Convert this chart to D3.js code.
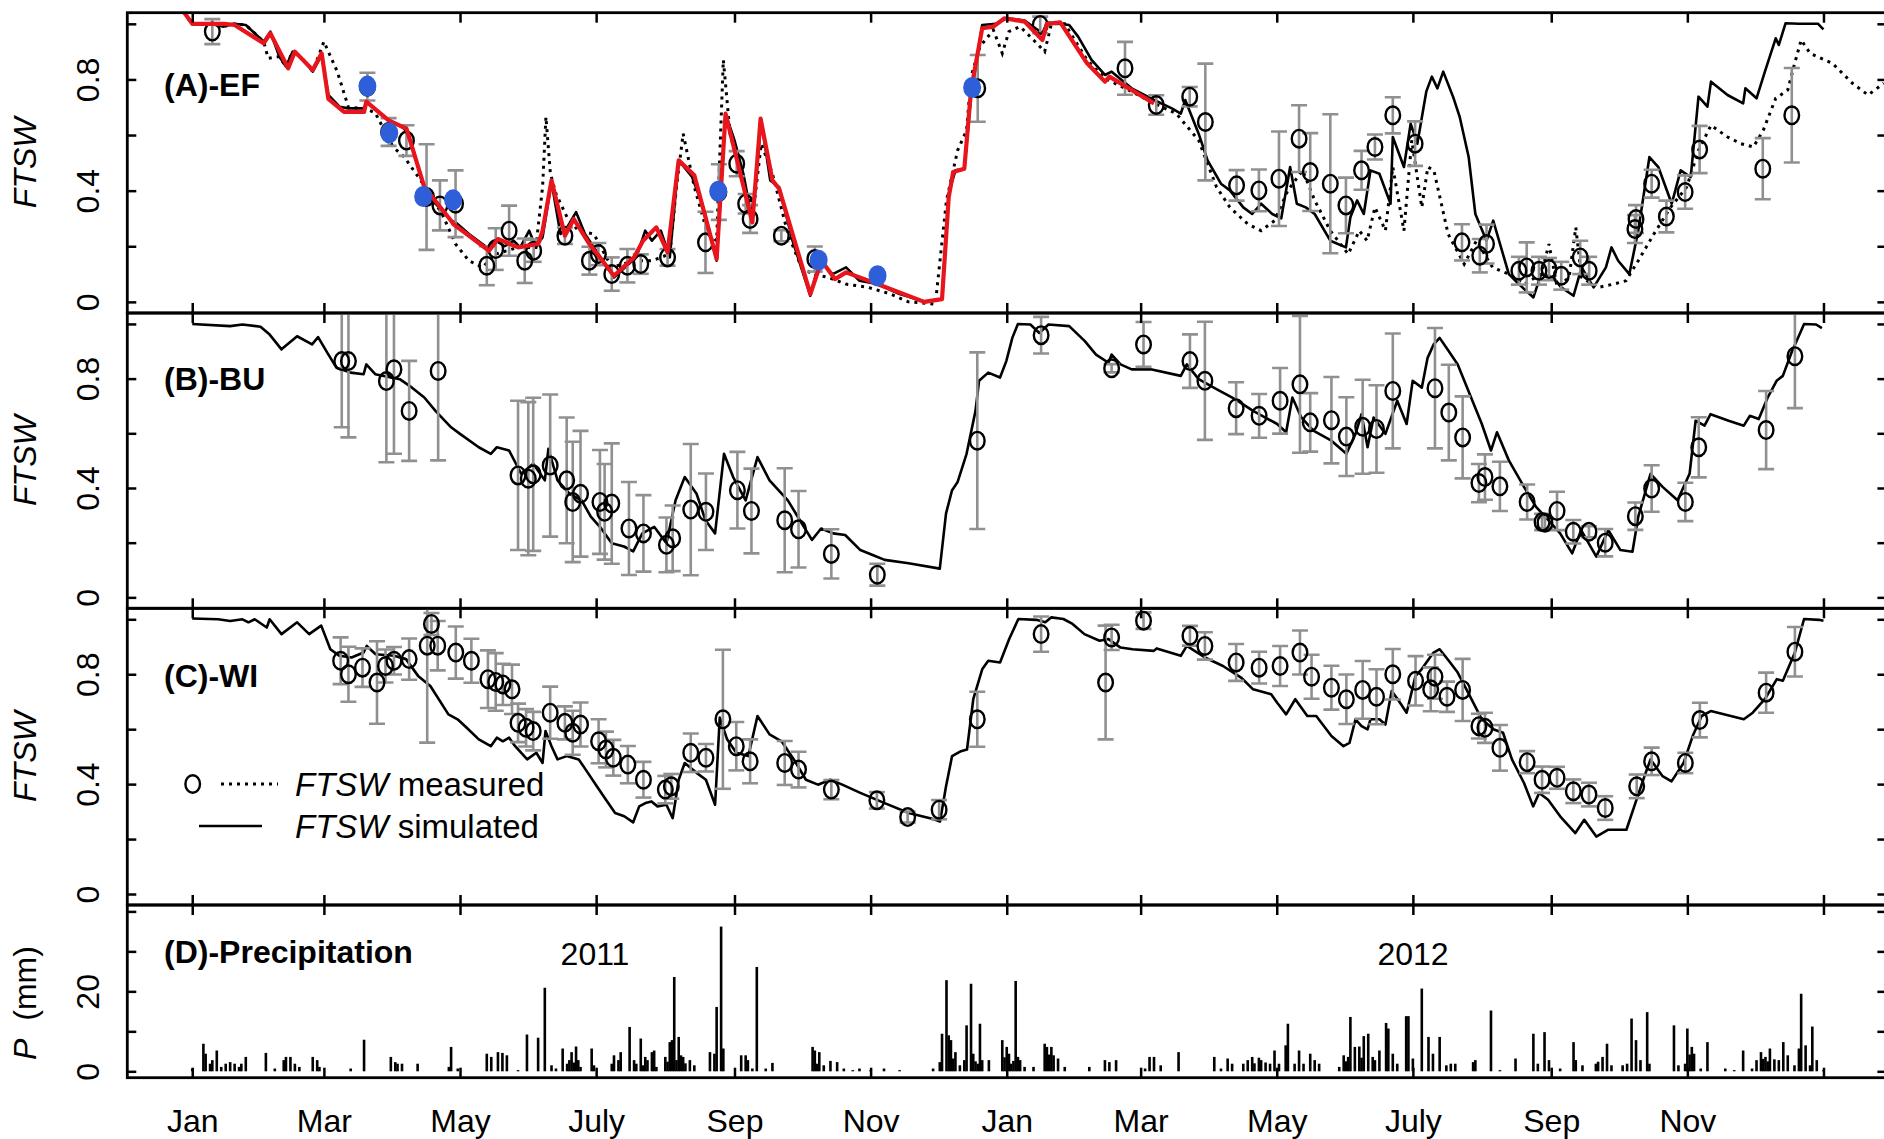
<!DOCTYPE html>
<html><head><meta charset="utf-8">
<script src="https://cdn.jsdelivr.net/npm/d3@7"></script>
<style>
body{margin:0;background:#fff}
svg{display:block}
text{font-family:"Liberation Sans",Arial,Helvetica,sans-serif;fill:#000}
</style>
</head><body><svg id="c" width="1884" height="1139"></svg>
<script>
// ---------------- DATA ----------------
// x values are days since 2011-01-01
const monthTickDates = ["2011-01-01","2011-03-01","2011-05-01","2011-07-01","2011-09-01","2011-11-01",
  "2012-01-01","2012-03-01","2012-05-01","2012-07-01","2012-09-01","2012-11-01","2013-01-01"];
const monthTickLabels = ["Jan","Mar","May","July","Sep","Nov","Jan","Mar","May","July","Sep","Nov",""];
const yearLabels = [["2011", 595], ["2012", 1413]];

// Panel A (EF) simulated FTSW (solid)
const simA = [[-4,1.045],[0,1.0],[8,1.0],[14,0.99],[19,1.0],[24,0.996],[32,0.936],[35,0.972],[39,0.882],[42,0.846],[45,0.9],[50,0.87],[54,0.828],[58,0.888],[61,0.744],[66,0.702],[70,0.696],[77,0.696],[78,0.72],[87,0.66],[95,0.623],[98,0.58],[103,0.43],[106,0.377],[112,0.329],[116,0.292],[118,0.286],[124,0.244],[132,0.196],[136,0.22],[140,0.2],[144,0.22],[147,0.196],[151,0.256],[154,0.196],[157,0.232],[161,0.431],[165,0.244],[168,0.268],[172,0.323],[176,0.244],[182,0.172],[189,0.088],[194,0.124],[199,0.16],[203,0.256],[206,0.22],[210,0.256],[214,0.16],[218,0.509],[224,0.449],[229,0.34],[235,0.148],[239,0.677],[243,0.581],[247,0.46],[251,0.292],[255,0.653],[259,0.437],[263,0.413],[269,0.22],[277,0.022],[281,0.148],[287,0.1],[293,0.124],[299,0.076],[307,0.064],[317,0.028],[329,0.0],[336,0.01],[339,0.389],[342,0.473],[346,0.479],[349,0.738],[352,0.894],[354,0.996],[360,1.0],[365,1.02],[373,1.012],[381,0.966],[383,1.005],[393,0.996],[397,0.954],[403,0.87],[409,0.816],[412,0.828],[421,0.768],[431,0.726],[439,0.696],[443,0.677],[445,0.726],[451,0.605],[455,0.509],[461,0.425],[465,0.401],[471,0.34],[475,0.316],[479,0.353],[484,0.316],[488,0.3],[492,0.485],[495,0.353],[499,0.34],[503,0.316],[510,0.22],[517,0.196],[519,0.304],[522,0.365],[525,0.316],[528,0.473],[532,0.461],[537,0.353],[538,0.593],[543,0.485],[546,0.641],[549,0.569],[553,0.756],[555.5,0.81],[558,0.768],[560.6,0.828],[565,0.738],[568,0.665],[572,0.521],[575,0.316],[580,0.22],[583,0.292],[590,0.1],[594.5,0.064],[601,0.016],[604.5,0.1],[610,0.088],[613.5,0.052],[619,0.022],[622.6,0.124],[628,0.052],[633.5,0.124],[636,0.196],[639,0.148],[644,0.1],[648,0.256],[653,0.521],[657,0.485],[663,0.353],[667,0.473],[671.5,0.449],[675,0.738],[679,0.702],[680.6,0.792],[688,0.744],[695,0.714],[696,0.768],[701,0.732],[705,0.834],[709.6,0.948],[711,0.924],[714,1.002],[720,1.0],[728.6,1.0],[731,0.98]];

// Panel A FTSW measured (dotted)
const obsLineA = [[-4,1.045],[0,1.0],[8,1.0],[14,0.99],[19,1.0],[24,0.996],[32,0.936],[34,0.876],[39,0.882],[42,0.846],[45,0.9],[50,0.87],[54,0.828],[59,0.936],[65,0.828],[70,0.7],[77,0.696],[82,0.68],[90,0.557],[95,0.521],[103,0.43],[112,0.316],[118,0.208],[124,0.148],[130,0.124],[136,0.172],[146,0.196],[154,0.196],[157,0.413],[158.5,0.665],[160.5,0.461],[163,0.389],[168,0.304],[173,0.256],[180,0.244],[188,0.124],[198,0.148],[206,0.148],[214,0.172],[217,0.413],[220,0.605],[225,0.413],[231,0.244],[235,0.22],[238,0.87],[241,0.605],[245,0.485],[249,0.365],[252,0.365],[255,0.569],[260,0.461],[267,0.244],[273,0.124],[278,0.1],[285,0.088],[293,0.064],[303,0.052],[313,0.028],[321,0.0],[333,-0.008],[338,0.365],[343,0.545],[347,0.617],[349,0.81],[353,0.918],[359,0.978],[363,0.894],[366,0.972],[371,0.99],[377,0.942],[382,0.9],[385,1.0],[391,1.0],[401,0.87],[409,0.804],[421,0.756],[431,0.714],[441,0.677],[451,0.581],[459,0.413],[465,0.34],[473,0.28],[479,0.256],[485,0.292],[491,0.401],[497.6,0.473],[503,0.365],[510,0.256],[518,0.172],[523,0.256],[526.5,0.22],[530,0.34],[534.7,0.256],[538,0.485],[543,0.256],[546.5,0.581],[551,0.34],[553.7,0.485],[556.4,0.473],[562.8,0.244],[570,0.136],[575.5,0.22],[582.7,0.124],[590,0.1],[597,0.064],[604.5,0.1],[608,0.208],[611.7,0.052],[617,0.088],[620,0.268],[622.6,0.088],[630,0.052],[637,0.064],[642.5,0.076],[648,0.148],[655,0.244],[662.5,0.34],[669.7,0.413],[675,0.545],[680.6,0.635],[688,0.593],[694,0.569],[699.6,0.557],[704,0.617],[709.6,0.732],[715,0.762],[717.7,0.846],[721,0.942],[725,0.894],[735,0.858],[744,0.786],[751,0.744],[758,0.786]];

// Panel A red line and blue dots
const redA = [[-4,1.045],[0,1.0],[14,1.0],[19,0.996],[32,0.93],[35,0.966],[43,0.84],[46,0.9],[54,0.834],[58,0.894],[61,0.73],[68,0.683],[77,0.683],[78,0.72],[88,0.653],[96,0.623],[104,0.413],[116,0.292],[117,0.28],[133,0.184],[137,0.226],[146,0.196],[155,0.208],[157,0.256],[161,0.437],[167,0.238],[171,0.298],[178,0.208],[189,0.094],[198,0.16],[202,0.22],[208,0.268],[213,0.178],[218,0.509],[225,0.455],[235,0.154],[239,0.677],[251,0.286],[254.7,0.659],[260,0.437],[263,0.407],[277,0.028],[282,0.148],[288,0.082],[293,0.106],[307,0.064],[328,0.0],[336,0.01],[339,0.377],[341,0.467],[346,0.479],[349,0.762],[354,0.984],[359,0.99],[364,1.02],[373,1.008],[381,0.942],[383,1.0],[389,1.005],[401,0.858],[409,0.792],[411,0.81],[431,0.714]];
const blueA = [[78.5,0.776],[88.3,0.608],[103.5,0.379],[116.9,0.367],[235.7,0.398],[280.7,0.15],[307.1,0.094],[349.5,0.771]];

// Panel A measured points [day, FTSW, sd]
const measA = [[9,0.972,0.045],[78.5,0.774,0.05],[88,0.611,0.05],[96,0.58,0.055],[105,0.377,0.19],[111,0.347,0.09],[118,0.353,0.12],[132,0.13,0.07],[136,0.19,0.075],[142,0.256,0.09],[149,0.148,0.08],[153,0.184,0.04],[167,0.238,0.03],[178,0.148,0.05],[182,0.172,0.04],[188,0.1,0.06],[195,0.13,0.06],[201,0.136,0.035],[213,0.16,0.03],[230,0.214,0.11],[236,0.395,0.1],[244,0.497,0.045],[248,0.353,0.035],[250,0.298,0.05],[264,0.238,0.02],[279,0.154,0.045],[352,0.768,0.12],[380,0.996,0.03],[418,0.84,0.095],[432,0.708,0.035],[447,0.738,0.035],[454,0.647,0.21],[468,0.419,0.055],[478,0.401,0.075],[487,0.443,0.17],[496,0.587,0.12],[501,0.467,0.14],[510,0.425,0.25],[517,0.347,0.1],[524,0.473,0.07],[530,0.557,0.045],[538,0.671,0.065],[548,0.569,0.08],[569,0.214,0.065],[577,0.166,0.06],[580,0.208,0.07],[594.5,0.112,0.05],[598,0.124,0.09],[603.5,0.112,0.05],[608,0.118,0.04],[613.5,0.094,0.05],[622,0.16,0.06],[626,0.112,0.05],[646.5,0.262,0.05],[647,0.298,0.05],[654,0.425,0.05],[660.6,0.307,0.057],[669,0.395,0.06],[675.5,0.548,0.085],[703.8,0.479,0.11],[716.8,0.671,0.17]];

// Panel B (BU)
const simB = [[0,1.0],[17,0.992],[22.5,0.998],[30.6,0.99],[34.7,0.961],[40,0.907],[47,0.955],[53.7,0.925],[56.4,0.952],[60.5,0.895],[64.6,0.84],[71,0.822],[76.8,0.816],[78,0.852],[82,0.816],[93,0.798],[98.5,0.767],[104,0.731],[109,0.682],[116,0.622],[120,0.598],[128.4,0.549],[133.8,0.525],[136.5,0.549],[142,0.537],[147.4,0.452],[152.8,0.489],[158,0.428],[159.6,0.543],[163.7,0.428],[169,0.379],[174.5,0.355],[178.6,0.295],[182.7,0.258],[188,0.198],[193.5,0.186],[197.6,0.168],[201.7,0.234],[207,0.258],[212.5,0.198],[216.6,0.355],[220.7,0.44],[226,0.379],[230,0.282],[234.3,0.234],[238.3,0.525],[242.4,0.44],[248,0.355],[253.3,0.513],[258.7,0.428],[266.9,0.355],[272.3,0.282],[277.7,0.21],[281.8,0.252],[287.2,0.234],[292.6,0.228],[299.4,0.173],[304.9,0.155],[310.3,0.137],[321,0.125],[335,0.105],[337.8,0.307],[340.5,0.392],[343,0.422],[347,0.525],[351,0.682],[352.6,0.792],[356.7,0.822],[362,0.804],[364.8,0.864],[367.5,0.949],[370,1.0],[375.6,0.998],[379.6,0.967],[383.7,0.998],[393,0.992],[400,0.937],[405,0.888],[410.6,0.858],[412,0.888],[416,0.852],[421,0.834],[429.5,0.834],[443,0.81],[445.7,0.852],[451,0.798],[459.2,0.761],[467.3,0.725],[475.4,0.682],[486.2,0.634],[490.2,0.604],[493,0.731],[497,0.658],[502.4,0.61],[510.5,0.573],[517.2,0.525],[521.3,0.598],[524,0.67],[526.7,0.549],[529.4,0.658],[534.7,0.598],[540,0.719],[544.2,0.634],[546.9,0.792],[551,0.767],[553.6,0.876],[556.3,0.925],[559,0.949],[563.1,0.9],[567.1,0.852],[572.5,0.743],[577.9,0.634],[582,0.537],[584.7,0.604],[590,0.501],[596.8,0.404],[602.2,0.331],[607.6,0.283],[613,0.234],[618.4,0.161],[622.4,0.246],[629.2,0.149],[634.6,0.246],[640,0.173],[645.4,0.167],[648,0.295],[653.5,0.452],[658.9,0.404],[665.6,0.355],[671,0.452],[673.7,0.646],[677.7,0.628],[680.4,0.67],[688.5,0.646],[695.3,0.628],[698,0.664],[702,0.652],[706,0.731],[710,0.792],[712.8,0.81],[716.9,0.9],[720.9,0.973],[722.3,1.0],[727.7,0.998],[730.3,0.985]];
const measB = [[67,0.864,0.242],[70,0.864,0.279],[87,0.791,0.297],[90.4,0.834,0.309],[97.2,0.682,0.183],[110.2,0.828,0.327],[146,0.446,0.273],[150.6,0.434,0.28],[152.8,0.45,0.28],[160.4,0.482,0.26],[167.8,0.428,0.23],[170.5,0.349,0.22],[174,0.379,0.23],[182.7,0.349,0.19],[184.8,0.313,0.175],[188,0.343,0.22],[195.7,0.252,0.17],[202.2,0.234,0.14],[212.5,0.192,0.1],[215.3,0.216,0.12],[223.4,0.321,0.24],[230.2,0.313,0.14],[244.3,0.392,0.14],[250.6,0.316,0.155],[265.5,0.282,0.19],[271.7,0.249,0.14],[286.4,0.159,0.09],[307,0.083,0.04],[351.8,0.573,0.323],[380.4,0.959,0.067],[412,0.838,0.015],[426.3,0.925,0.082],[447.1,0.864,0.098],[453.8,0.792,0.216],[467.8,0.692,0.095],[478.1,0.664,0.08],[487.5,0.719,0.12],[496.4,0.779,0.25],[501,0.64,0.107],[510.5,0.648,0.158],[517.2,0.588,0.144],[524.5,0.624,0.172],[530.7,0.616,0.16],[538,0.755,0.21],[556.9,0.765,0.22],[563.1,0.676,0.175],[569.3,0.585,0.15],[576.6,0.418,0.07],[579.3,0.44,0.083],[586,0.406,0.09],[598.2,0.349,0.064],[604.9,0.276,0.03],[606.2,0.273,0.02],[611.6,0.316,0.07],[618.9,0.24,0.043],[625.9,0.24,0.02],[633.2,0.2,0.05],[646.7,0.297,0.05],[654,0.398,0.085],[669.1,0.349,0.07],[675.1,0.549,0.11],[705.3,0.612,0.143],[718.2,0.882,0.19]];

// Panel C (WI)
const simC = [[0,1.003],[11.6,1.0],[17,0.994],[22.5,1.0],[25.2,0.989],[28,1.0],[33.4,0.97],[34.7,1.0],[40,0.946],[47,0.989],[52.4,0.946],[57.8,0.977],[61.9,0.891],[66,0.867],[71.4,0.861],[76.8,0.879],[78.2,0.903],[82.2,0.873],[90.4,0.867],[95.8,0.855],[101.2,0.794],[106.7,0.757],[114.8,0.654],[118.9,0.636],[123,0.605],[128.4,0.563],[133.8,0.538],[136.5,0.569],[139.2,0.556],[142,0.569],[144.7,0.538],[150.1,0.49],[154.2,0.514],[157,0.477],[158.3,0.593],[161,0.538],[163.7,0.49],[167.8,0.502],[173.2,0.49],[177.3,0.441],[181.3,0.392],[185.4,0.343],[189.5,0.295],[193.6,0.283],[197.6,0.261],[200.3,0.319],[203.1,0.331],[205.8,0.337],[208.5,0.319],[212.5,0.325],[215.3,0.276],[218,0.416],[220.7,0.477],[226,0.441],[230.2,0.416],[234.3,0.325],[236.4,0.642],[239.7,0.563],[243.8,0.514],[249.2,0.502],[253.3,0.648],[258.7,0.581],[264.1,0.556],[269.6,0.49],[275,0.416],[280.4,0.398],[285.9,0.416],[291.3,0.398],[299.4,0.368],[310.3,0.331],[321.1,0.295],[332,0.273],[335.1,0.264],[337.8,0.392],[340.5,0.502],[344.5,0.52],[347.2,0.526],[350,0.709],[354,0.818],[356.7,0.849],[362,0.843],[366.1,0.928],[370.2,1.001],[378.3,0.998],[382.3,0.989],[385,1.007],[390.4,1.001],[394.5,0.983],[399.8,0.946],[406.6,0.922],[410.6,0.928],[416,0.897],[421.4,0.891],[430.9,0.885],[432.2,0.894],[443,0.867],[445.7,0.903],[453.8,0.861],[461.9,0.83],[470,0.788],[475.4,0.745],[483.5,0.727],[486.2,0.696],[490.2,0.654],[494.3,0.709],[499.7,0.648],[503.7,0.648],[510.5,0.575],[515.9,0.538],[518.6,0.55],[521.3,0.636],[524,0.611],[526.7,0.599],[528,0.636],[532,0.636],[534.7,0.617],[537.5,0.739],[540.2,0.709],[544.2,0.66],[548.2,0.794],[550.9,0.818],[553.6,0.849],[556.3,0.879],[559,0.891],[563.1,0.849],[567.1,0.806],[572.5,0.721],[577.9,0.636],[583.3,0.599],[587.4,0.587],[591.4,0.49],[596.8,0.404],[600.9,0.319],[603.6,0.368],[607.6,0.343],[613,0.283],[619.8,0.222],[623.8,0.27],[629.2,0.209],[634.6,0.234],[642.7,0.234],[646.7,0.331],[650.8,0.429],[653.5,0.49],[658.9,0.429],[662.9,0.41],[668.3,0.477],[672.4,0.575],[676.4,0.648],[680.5,0.666],[695.3,0.636],[699.3,0.66],[704.7,0.709],[710.1,0.782],[712.8,0.776],[718.2,0.879],[722.3,1.001],[729,0.998],[731,0.995]];
const measC = [[66.5,0.849,0.085],[70,0.8,0.1],[76.3,0.824,0.07],[82.8,0.77,0.15],[86.6,0.83,0.06],[90.4,0.849,0.05],[97.2,0.855,0.075],[105.3,0.904,0.353],[107.2,0.983,0.04],[110,0.904,0.09],[118.1,0.879,0.095],[125.1,0.849,0.08],[132.5,0.782,0.105],[136,0.772,0.105],[139.2,0.763,0.075],[143.3,0.745,0.09],[146,0.623,0.07],[149.6,0.605,0.068],[152.8,0.593,0.07],[160.4,0.66,0.095],[167,0.623,0.06],[170.5,0.587,0.08],[174,0.617,0.08],[182.1,0.556,0.08],[185.4,0.526,0.065],[188.7,0.496,0.065],[195.2,0.471,0.068],[202.2,0.416,0.065],[212,0.38,0.05],[214.7,0.392,0.045],[223.4,0.514,0.07],[230.2,0.496,0.05],[237.8,0.636,0.253],[243.8,0.538,0.088],[250,0.483,0.08],[265.5,0.477,0.08],[271.7,0.453,0.065],[286.4,0.38,0.035],[306.8,0.341,0.03],[320.6,0.28,0.02],[334.7,0.307,0.035],[351.8,0.636,0.1],[380.4,0.946,0.064],[409.3,0.77,0.207],[412,0.934,0.046],[426.3,0.995,0.03],[447.1,0.94,0.036],[453.8,0.903,0.05],[467.8,0.843,0.067],[478.1,0.824,0.058],[487.5,0.83,0.073],[496.4,0.879,0.08],[501.6,0.791,0.08],[510.5,0.751,0.08],[517.2,0.709,0.09],[524.5,0.743,0.105],[530.7,0.718,0.1],[538,0.8,0.092],[548.2,0.776,0.09],[555,0.745,0.08],[556.9,0.791,0.08],[562.3,0.718,0.055],[569.3,0.743,0.113],[576.6,0.611,0.045],[579.3,0.605,0.055],[586,0.532,0.083],[598.2,0.48,0.04],[604.9,0.416,0.048],[611.6,0.423,0.04],[618.9,0.374,0.043],[625.9,0.362,0.043],[633.2,0.313,0.043],[647.3,0.392,0.043],[654,0.483,0.05],[669.1,0.477,0.037],[675.6,0.633,0.063],[705.3,0.733,0.073],[718.2,0.882,0.09]];

// Panel D daily precipitation [day, mm]
const precip = [[0,0.7],[5,6.9],[6,4.4],[8,1.9],[9,2.8],[11,5.2],[13,1.1],[15,1.9],[17,2.3],[19,1.9],[21,1.1],[22,1.9],[24,3.6],[33,4.6],[37,0.7],[41,2.8],[42,3.6],[44,3.6],[46,1.9],[48,1.1],[54,3.6],[56,2.8],[57,1.1],[71,0.7],[77,7.9],[89,3.6],[91,2.3],[92,1.9],[94,1.9],[101,1.9],[115,1.1],[116,6.1],[119,0.7],[132,4.4],[134,3.6],[137,4.8],[139,4.6],[141,4],[146,0.3],[150,9.2],[155,8.4],[158,20.9],[161,1.5],[163,0.7],[166,5.7],[168,1.9],[169,2.8],[170,4.8],[171,2.2],[172,6.2],[173,2.8],[174,1.1],[179,5.7],[180,1.5],[188,1.9],[189,4],[191,2.8],[192,4.8],[196,11.1],[198,2.8],[199,1.9],[201,8.2],[202,1.5],[203,3.6],[204,2.8],[206,4.8],[207,5.2],[208,1.1],[212,3.6],[213,2.4],[214,7.3],[215,7.8],[216,23.6],[217,2.8],[218,8.6],[219,4],[220,3.6],[221,2],[223,2.8],[225,1.5],[232,4.8],[234,4.4],[235,16.1],[237,36.2],[238,5.7],[246,4],[248,4],[249,2.8],[251,0.7],[253,26.1],[257,0.7],[260,2.1],[278,6.1],[279,5.2],[280,1.9],[281,4.8],[283,1.5],[286,2.6],[289,2.3],[292,0.7],[296,0.3],[299,0.7],[304,0.3],[310,0.7],[317,0.3],[332,0.7],[335,2.3],[336,9.4],[338,22.8],[339,9],[340,7.8],[341,3.2],[342,4.8],[344,1.5],[346,2.8],[347,11.5],[349,21.9],[350,4.4],[351,2.5],[352,1.9],[353,11.9],[354,2.8],[357,2.8],[363,7.8],[364,3.5],[365,6.1],[366,4.4],[367,1.9],[368,2.6],[369,22.6],[370,3.6],[371,2.8],[373,1.1],[377,1.1],[382,6.9],[383,6.1],[384,4.2],[385,6.1],[386,4],[388,3.2],[391,1.1],[402,1.1],[409,2.8],[411,2.3],[414,2.8],[427,0.7],[429,3.6],[431,3.6],[434,1.5],[442,4.8],[458,3.6],[461,0.7],[464,3.2],[466,1.9],[471,1.9],[473,2.8],[475,3.6],[476,2],[478,3.4],[479,2.8],[481,2.2],[483,1.9],[485,5.2],[487,1.9],[490,6.5],[491,11.9],[494,1.9],[496,5.2],[498,1.9],[501,4.4],[503,2.8],[505,1.9],[514,1.1],[516,4],[517,2.5],[518,3.6],[519,13.6],[521,6.1],[523,6.2],[524,3.4],[525,8.8],[527,9.4],[529,3.6],[530,2.8],[532,5.2],[535,12.1],[536,10.7],[538,4.4],[540,1.9],[544,13.8],[545,13.8],[547,3.2],[551,20.7],[554,8.6],[556,4.4],[559,8.6],[562,1.5],[564,1.9],[566,1.9],[574,2.3],[575,2.8],[582,15.2],[586,0.3],[593,3.2],[601,9.4],[603,1.9],[606,9.8],[608,2.8],[613,0.7],[619,7.3],[620,2.8],[623,1.5],[629,1.9],[630,2.4],[632,3.6],[634,6.9],[636,1.5],[641,1.5],[643,1.9],[645,13.2],[647,7.8],[649,2.8],[652,14.8],[653,1.9],[664,11.5],[666,1.5],[669,1.9],[670,10.7],[671,4.2],[672,6.1],[673,4.4],[676,0.7],[679,7.3],[687,0.7],[691,0.3],[695,5.2],[699,0.7],[701,2.8],[703,4.8],[704,3.1],[705,3.6],[706,2.5],[707,5.7],[709,3],[711,2.8],[713,7.3],[715,4],[718,1.5],[720,5.7],[721,19.4],[723,6.5],[725,1.5],[726,11.2],[728,2.8],[731,0.3]];

// ---------------- DRAWING ----------------
const svg = d3.select("#c");
const X0 = 127.3, X1 = 1886.4;
const x = d3.scaleLinear().domain([-29.1, 759.2]).range([X0, X1]);
const dayOf = s => (Date.parse(s) - Date.parse("2011-01-01")) / 864e5;
const monthDays = monthTickDates.map(dayOf);
const fmt = d => d === 0 ? "0" : String(d);
const FONT = '"Liberation Sans",Arial,sans-serif';

const panels = [
  {id:"A", top:12.7, bottom:313, dom:[-0.04,1.04], ticks:[0,0.2,0.4,0.6,0.8,1.0], labs:[0,0.4,0.8], label:"(A)-EF", labelY:96},
  {id:"B", top:313, bottom:608.3, dom:[-0.04,1.04], ticks:[0,0.2,0.4,0.6,0.8,1.0], labs:[0,0.4,0.8], label:"(B)-BU", labelY:390},
  {id:"C", top:608.3, bottom:905, dom:[-0.04,1.04], ticks:[0,0.2,0.4,0.6,0.8,1.0], labs:[0,0.4,0.8], label:"(C)-WI", labelY:687},
  {id:"D", top:905, bottom:1077.7, dom:[-1.6,41.6], ticks:[0,10,20,30,40], labs:[0,20], label:"(D)-Precipitation", labelY:963}
];
panels.forEach(p => { p.y = d3.scaleLinear().domain(p.dom).range([p.bottom, p.top]); });

const defs = svg.append("defs");
panels.forEach(p => {
  defs.append("clipPath").attr("id","clip"+p.id).append("rect")
    .attr("x",X0).attr("y",p.top).attr("width",X1-X0).attr("height",p.bottom-p.top);
});

const lineGen = y => d3.line().x(d => x(d[0])).y(d => y(d[1]));

function drawMeasured(g, y, data) {
  const eb = g.append("g").attr("stroke","#909090").attr("stroke-width",2.6).attr("fill","none");
  data.forEach(d => {
    const cx = x(d[0]), lo = y(d[1]-d[2]), hi = y(d[1]+d[2]);
    eb.append("line").attr("x1",cx).attr("x2",cx).attr("y1",lo).attr("y2",hi);
    eb.append("line").attr("x1",cx-8).attr("x2",cx+8).attr("y1",lo).attr("y2",lo);
    eb.append("line").attr("x1",cx-8).attr("x2",cx+8).attr("y1",hi).attr("y2",hi);
  });
  g.append("g").selectAll("ellipse").data(data).join("ellipse")
    .attr("cx", d => x(d[0])).attr("cy", d => y(d[1]))
    .attr("rx",7.3).attr("ry",8.8).attr("fill","none").attr("stroke","#000").attr("stroke-width",2.4);
}

const simByPanel = {A: simA, B: simB, C: simC};
const measByPanel = {A: measA, B: measB, C: measC};

panels.forEach(p => {
  const y = p.y;
  const g = svg.append("g").attr("clip-path", `url(#clip${p.id})`);
  if (p.id === "A") {
    g.append("path").datum(obsLineA).attr("d", lineGen(y)).attr("fill","none")
      .attr("stroke","#000").attr("stroke-width",3).attr("stroke-dasharray","3,5");
  }
  if (p.id !== "D") {
    g.append("path").datum(simByPanel[p.id]).attr("d", lineGen(y)).attr("fill","none")
      .attr("stroke","#000").attr("stroke-width",2.6).attr("stroke-linejoin","round");
    drawMeasured(g, y, measByPanel[p.id]);
  }
  if (p.id === "A") {
    g.append("path").datum(redA).attr("d", lineGen(y)).attr("fill","none")
      .attr("stroke","#e8161c").attr("stroke-width",4.2).attr("stroke-linejoin","round");
    g.selectAll("ellipse.blue").data(blueA).join("ellipse").attr("class","blue")
      .attr("cx", d => x(d[0])).attr("cy", d => y(d[1]))
      .attr("rx",9).attr("ry",10.5).attr("fill","#2f5fd8");
  }
  if (p.id === "D") {
    g.selectAll("rect").data(precip).join("rect")
      .attr("x", d => x(d[0]) - 1.3).attr("width", 2.6)
      .attr("y", d => y(d[1])).attr("height", d => y(0) - y(d[1]))
      .attr("fill","#000");
  }

  // axes (inward ticks)
  const ax = svg.append("g").attr("stroke-width",2.5);
  const left = ax.append("g").attr("transform",`translate(${X0},0)`)
    .call(d3.axisLeft(y).tickValues(p.ticks).tickSize(-9).tickPadding(0)
      .tickFormat(d => p.labs.includes(d) ? fmt(d) : ""));
  left.selectAll("text").attr("x",null).attr("dy","0.36em")
    .attr("transform","translate(-40,0) rotate(-90)").attr("text-anchor","middle")
    .style("font-size","32px").style("font-family",FONT);
  ax.append("g").attr("transform",`translate(${X1},0)`)
    .call(d3.axisRight(y).tickValues(p.ticks).tickSize(-9).tickFormat(""));
  ax.append("g").attr("transform",`translate(0,${p.top})`)
    .call(d3.axisTop(x).tickValues(monthDays).tickSize(-10).tickFormat(""));
  const bottom = ax.append("g").attr("transform",`translate(0,${p.bottom})`)
    .call(d3.axisBottom(x).tickValues(monthDays).tickSize(-10).tickPadding(32)
      .tickFormat((d,i) => p.id === "D" ? monthTickLabels[i] : ""));
  bottom.selectAll("text").style("font-size","32px").style("font-family",FONT);
  ax.selectAll(".domain").remove();
  ax.selectAll(".tick line").attr("stroke","#000").attr("stroke-width",2.5);

  // border
  svg.append("rect").attr("x",X0).attr("y",p.top).attr("width",X1-X0).attr("height",p.bottom-p.top)
    .attr("fill","none").attr("stroke","#000").attr("stroke-width",2.8);

  // panel label
  svg.append("text").attr("x",164).attr("y",p.labelY).style("font-size","32px")
    .style("font-weight","bold").text(p.label);

  // y title
  const yc = (p.top + p.bottom) / 2;
  if (p.id !== "D") {
    svg.append("text").attr("transform",`translate(24,${yc}) rotate(-90)`).attr("dy","0.36em")
      .attr("text-anchor","middle").style("font-size","32px").style("font-style","italic").text("FTSW");
  } else {
    const t = svg.append("text").attr("transform",`translate(24,1003) rotate(-90)`).attr("dy","0.36em")
      .attr("text-anchor","middle").style("font-size","32px");
    t.append("tspan").style("font-style","italic").text("P");
    t.append("tspan").text("\u00a0\u00a0(mm)");
  }
});

// year labels
yearLabels.forEach(([t, cx]) => {
  svg.append("text").attr("x",cx).attr("y",965).attr("text-anchor","middle").style("font-size","32px").text(t);
});

// legend
const lg = svg.append("g");
lg.append("ellipse").attr("cx",192.7).attr("cy",784).attr("rx",7.3).attr("ry",8.8)
  .attr("fill","none").attr("stroke","#000").attr("stroke-width",2.4);
lg.append("line").attr("x1",221).attr("x2",278).attr("y1",784).attr("y2",784)
  .attr("stroke","#000").attr("stroke-width",3).attr("stroke-dasharray","3,5");
lg.append("line").attr("x1",199).attr("x2",262).attr("y1",826).attr("y2",826)
  .attr("stroke","#000").attr("stroke-width",2.6);
const l1 = lg.append("text").attr("x",295).attr("y",796).style("font-size","33px");
l1.append("tspan").style("font-style","italic").text("FTSW");
l1.append("tspan").text(" measured");
const l2 = lg.append("text").attr("x",295).attr("y",838).style("font-size","33px");
l2.append("tspan").style("font-style","italic").text("FTSW");
l2.append("tspan").text(" simulated");
</script></body></html>
